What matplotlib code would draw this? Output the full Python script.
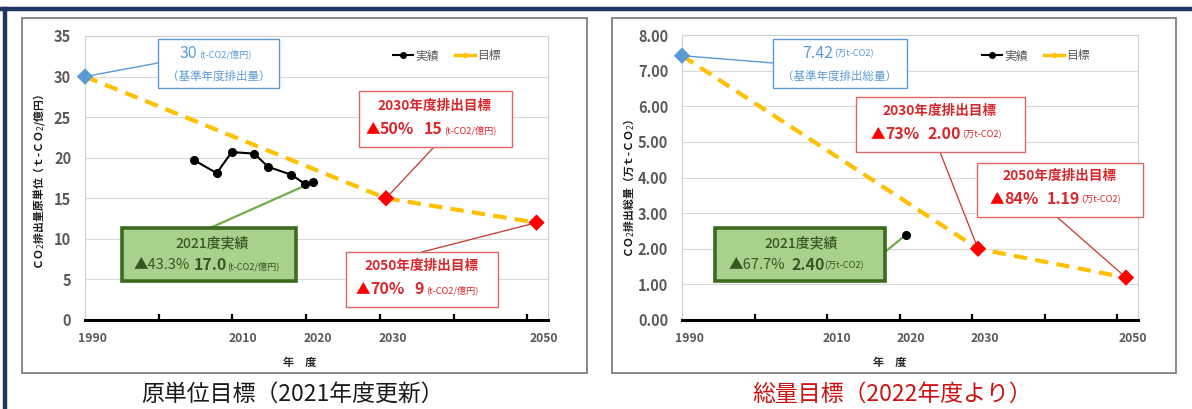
import matplotlib
matplotlib.use("Agg")
import matplotlib.pyplot as plt
from matplotlib.patches import Rectangle, ConnectionPatch
from matplotlib.lines import Line2D
from matplotlib.transforms import ScaledTranslation
import numpy as np

plt.rcParams['font.family'] = ['Noto Sans CJK JP', 'DejaVu Sans']

# ---------------- data ----------------
actual_years_left = [2004.5, 2007.5, 2009.5, 2012.5, 2014.3, 2017.4, 2019.2, 2020.3]
intensity_actual = [19.7, 18.1, 20.7, 20.5, 18.9, 17.9, 16.8, 17.0]
target_years = [1990, 2030, 2050]
intensity_target = [30, 15, 12]

actual_years_right = [2020.3]
total_actual = [2.40]
total_target = [7.42, 2.00, 1.19]

xtick_years = [1990, 2010, 2020, 2030, 2050]
xtick_labels = ['1990', '2010', '2020', '2030', '2050']
left_yticks = [0, 5, 10, 15, 20, 25, 30, 35]
right_yticks = [0, 1, 2, 3, 4, 5, 6, 7, 8]

legend_labels = ['実績', '目標']

# ---------------- layout helpers ----------------
W, H = 1192, 409
def fx(x): return x / W
def fy(y): return 1 - y / H

fig = plt.figure(figsize=(W / 100, H / 100), dpi=100)
fig.patch.set_facecolor('white')

GRAY = '#595959'
YELLOW = '#ffc000'
BLUE = '#5b9bd5'
RED = '#ff0000'
DRED = '#d9262b'
GREEN_TXT = '#375623'

# chart frames
for (x0, y0, x1, y1) in [(22, 18, 587, 373), (612, 18, 1176, 373)]:
    fig.add_artist(Rectangle((fx(x0), fy(y1)), (x1 - x0) / W, (y1 - y0) / H,
                             transform=fig.transFigure, facecolor='white',
                             edgecolor='#7f7f7f', lw=1.3, zorder=-5))

# dark blue outer frame
fig.add_artist(Line2D([0, 1], [fy(9), fy(9)], color='#1f3864', lw=3.2,
                      transform=fig.transFigure, zorder=-4))
fig.add_artist(Line2D([fx(5), fx(5)], [0, fy(9)], color='#1f3864', lw=3.2,
                      transform=fig.transFigure, zorder=-4))

ax1 = fig.add_axes([fx(85), fy(320), (548 - 85) / W, (320 - 36) / H])
ax2 = fig.add_axes([fx(682), fy(320), (1138 - 682) / W, (320 - 35) / H])


def style_axes(ax, xmax, ymax, yticks, fmt, tickstep):
    ax.set_xlim(1990, xmax)
    ax.set_ylim(0, ymax)
    ax.set_yticks(yticks)
    ax.set_yticklabels([fmt.format(v) for v in yticks])
    ax.grid(axis='y', color='#d9d9d9', lw=0.8)
    ax.set_axisbelow(True)
    for s in ['top', 'right', 'left']:
        ax.spines[s].set_color('#d0d0d0')
        ax.spines[s].set_linewidth(0.8)
    ax.spines['bottom'].set_color('black')
    ax.spines['bottom'].set_linewidth(2.2)
    ax.tick_params(axis='y', length=0, pad=10, labelsize=10.5, labelcolor=GRAY)
    ax.set_xticks(xtick_years)
    ax.set_xticklabels(xtick_labels)
    ax.tick_params(axis='x', which='major', length=0, pad=9, labelsize=8.8,
                   labelcolor=GRAY)
    ax.set_xticks(1990 + np.arange(7) * tickstep, minor=True)
    ax.tick_params(axis='x', which='minor', direction='in', length=4, width=1.6,
                   color='black')
    for lbl in ax.get_yticklabels() + ax.get_xticklabels():
        lbl.set_fontweight('bold')
    for lbl in ax.get_xticklabels():
        lbl.set_transform(lbl.get_transform() +
                          ScaledTranslation(7 / 100, 0, fig.dpi_scale_trans))


style_axes(ax1, 1990 + 463 / 7.525, 35, left_yticks, '{:d}', 9.8)
style_axes(ax2, 1990 + 456 / 7.4, 8, right_yticks, '{:.2f}', 9.8)

marker_colors = [BLUE, RED, RED]
for ax, act_x, act_y, tgt in [(ax1, actual_years_left, intensity_actual, intensity_target),
                              (ax2, actual_years_right, total_actual, total_target)]:
    ax.plot(target_years, tgt, color=YELLOW, lw=3, dashes=(3.2, 2.0), zorder=3,
            clip_on=False)
    ax.scatter(target_years, tgt, marker='D', s=70, c=marker_colors, zorder=5,
               clip_on=False, linewidths=0)
    ax.plot(act_x, act_y, color='black', lw=1.5, marker='o', ms=5.5, zorder=4,
            clip_on=False)

# legends
for ax, cx in [(ax1, 447), (ax2, 1036)]:
    h1 = Line2D([], [], color='black', lw=1.5, marker='o', ms=4)
    h2 = Line2D([], [], color=YELLOW, lw=2.5, marker='D', ms=2.5)
    ax.legend([h1, h2], legend_labels, loc='center', ncol=2, frameon=False,
              bbox_to_anchor=(fx(cx), fy(56)), bbox_transform=fig.transFigure,
              fontsize=8.5, labelcolor=GRAY, handlelength=1.7, handletextpad=0.2,
              columnspacing=1.3)


def box(x0, y0, x1, y1, ec, fc='white', lw=1.0):
    fig.add_artist(Rectangle((fx(x0), fy(y1)), (x1 - x0) / W, (y1 - y0) / H,
                             transform=fig.transFigure, facecolor=fc, edgecolor=ec,
                             lw=lw, zorder=6))


def txt(x, y, s, size, color, weight='normal', ha='left'):
    fig.text(fx(x), fy(y), s, fontsize=size, color=color, fontweight=weight,
             ha=ha, va='center', zorder=7)


def connect(ax, pfig, pdata, color, lw):
    cp = ConnectionPatch(xyA=(fx(pfig[0]), fy(pfig[1])), coordsA='figure fraction',
                         xyB=pdata, coordsB='data', axesB=ax, color=color, lw=lw,
                         zorder=2, clip_on=False)
    ax.add_artist(cp)


SMALL = 6.6

# ---------- left panel callouts ----------
connect(ax1, (158, 63), (target_years[0], intensity_target[0]), BLUE, 1.0)
box(158, 39, 279, 88, BLUE, lw=1.0)
txt(180, 53, '30', 11.5, BLUE)
txt(199, 54, '(t-CO2/億円)', SMALL, BLUE)
txt(219, 76, '（基準年度排出量）', 8.3, BLUE, ha='center')

connect(ax1, (434, 147), (target_years[1], intensity_target[1]), '#c0392b', 0.9)
box(359, 91, 512, 147, '#e06666')
txt(435, 106, '2030年度排出目標', 9.8, DRED, 'bold', ha='center')
txt(366, 129, '▲', 10.5, RED)
txt(380, 129, '50%', 11.5, DRED, 'bold')
txt(424, 129, '15', 11.5, DRED, 'bold')
txt(444, 130, '(t-CO2/億円)', SMALL, DRED)

connect(ax1, (422, 252), (target_years[2], intensity_target[2]), '#c0392b', 0.9)
box(346, 252, 498, 307, '#e06666')
txt(422, 266, '2050年度排出目標', 9.8, DRED, 'bold', ha='center')
txt(356, 289, '▲', 10.5, RED)
txt(370, 289, '70%', 11.5, DRED, 'bold')
txt(414, 289, '9', 11.5, DRED, 'bold')
txt(426, 290, '(t-CO2/億円)', SMALL, DRED)

connect(ax1, (210, 228), (actual_years_left[-1], intensity_actual[-1]), '#70ad47', 1.6)
box(122, 228, 296, 281, '#3a6b1f', fc='#a9d18e', lw=2.6)
txt(212, 243, '2021度実績', 10, GREEN_TXT, 'medium', ha='center')
txt(134, 265, '▲43.3%', 10.5, GREEN_TXT)
txt(194, 265, '17.0', 11.5, GREEN_TXT, 'bold')
txt(227, 266, '(t-CO2/億円)', SMALL, GREEN_TXT)

# ---------- right panel callouts ----------
connect(ax2, (773, 63), (target_years[0], total_target[0]), BLUE, 1.0)
box(773, 39, 907, 88, BLUE, lw=1.0)
txt(802, 53, '7.42', 11.5, BLUE)
txt(834, 54, '(万t-CO2)', SMALL, BLUE)
txt(840, 76, '（基準年度排出総量）', 8.3, BLUE, ha='center')

connect(ax2, (940, 152), (target_years[1], total_target[1]), '#c0392b', 0.9)
box(856, 97, 1025, 152, '#e06666')
txt(940, 111, '2030年度排出目標', 9.8, DRED, 'bold', ha='center')
txt(871, 134, '▲', 10.5, RED)
txt(885, 134, '73%', 11.5, DRED, 'bold')
txt(928, 134, '2.00', 11.5, DRED, 'bold')
txt(962, 135, '(万t-CO2)', SMALL, DRED)

connect(ax2, (1057, 217), (target_years[2], total_target[2]), '#c0392b', 0.9)
box(977, 163, 1143, 217, '#e06666')
txt(1060, 176, '2050年度排出目標', 9.8, DRED, 'bold', ha='center')
txt(990, 199, '▲', 10.5, RED)
txt(1004, 199, '84%', 11.5, DRED, 'bold')
txt(1047, 199, '1.19', 11.5, DRED, 'bold')
txt(1081, 200, '(万t-CO2)', SMALL, DRED)

connect(ax2, (885, 252), (actual_years_right[-1], total_actual[-1]), '#70ad47', 1.6)
box(715, 228, 885, 281, '#3a6b1f', fc='#a9d18e', lw=2.6)
txt(801, 243, '2021度実績', 10, GREEN_TXT, 'medium', ha='center')
txt(729, 265, '▲67.7%', 10.5, GREEN_TXT)
txt(791, 265, '2.40', 11.5, GREEN_TXT, 'bold')
txt(824, 266, '(万t-CO2)', SMALL, GREEN_TXT)

# ---------- axis titles ----------
fig.text(fx(39), fy(182), 'ＣＯ$_2$排出量原単位（ｔ-ＣＯ$_2$/億円）', rotation=90,
         fontsize=7.8, fontweight='bold', color='#1a1a1a', ha='center', va='center')
fig.text(fx(629), fy(188), 'ＣＯ$_2$排出総量（万ｔ-ＣＯ$_2$）', rotation=90,
         fontsize=7.8, fontweight='bold', color='#1a1a1a', ha='center', va='center')
fig.text(fx(300), fy(362), '年　度', fontsize=8, fontweight='bold', color='#262626',
         ha='center', va='center')
fig.text(fx(890), fy(362), '年　度', fontsize=8, fontweight='bold', color='#262626',
         ha='center', va='center')

# captions
fig.text(fx(293), fy(394), '原単位目標（2021年度更新）', fontsize=16.5, color='#1a1a1a',
         fontweight='normal', ha='center', va='center')
fig.text(fx(892), fy(394), '総量目標（2022年度より）', fontsize=16.5, color='#cc1111',
         fontweight='normal', ha='center', va='center')

fig.savefig('out.png', dpi=100)
